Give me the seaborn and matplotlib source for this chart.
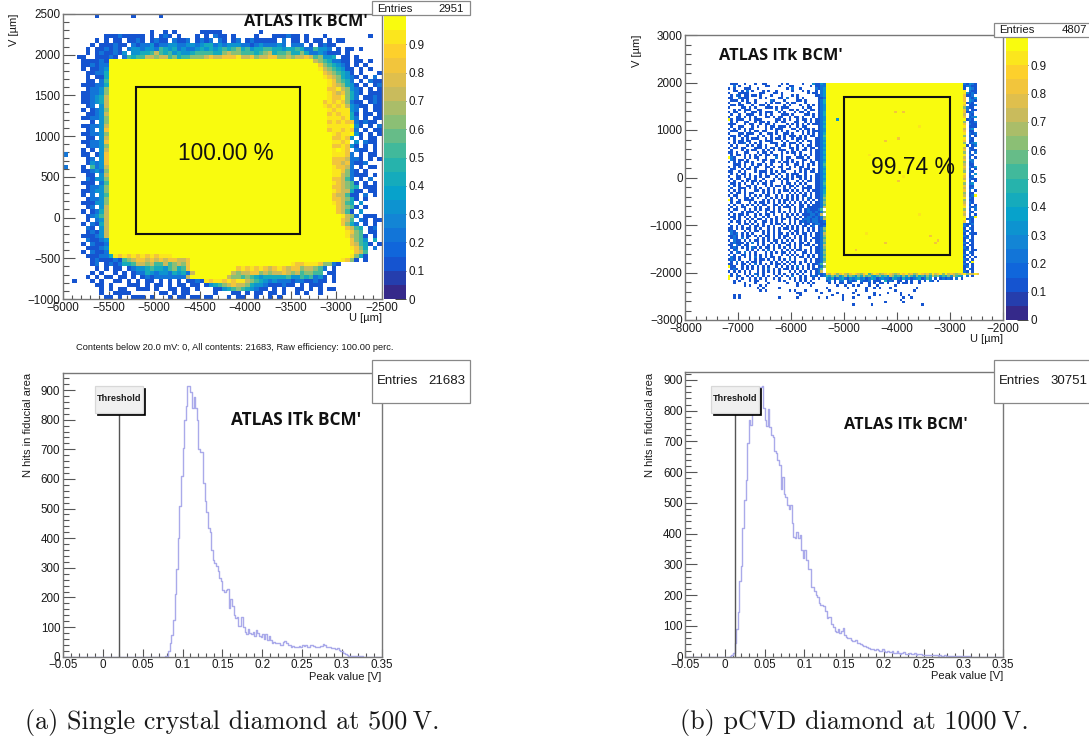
import numpy as np
import pandas as pd
import matplotlib
matplotlib.use("Agg")
import matplotlib.pyplot as plt
from matplotlib.colors import LinearSegmentedColormap
from matplotlib.patches import Rectangle
import seaborn as sns

# cell codes: . empty, 1-9 tenths of efficiency, Y full efficiency

# single crystal map, 50 um cells, top row first
sc_rows = [
    ".......1.......1.....1", "", "", "",
    "...................1..1.1.....11111........1",
    ".........111211111.1.121.1...1.1.211.1....1...111211.1...1.........1",
    ".......1.1.11.1121.1211.2112.1212.21.12.1211111.2.11.1.11.1.11",
    "......1.111211.2122312233223323442323332212322232.222.1.1211",
    ".....1.112121.233233254342322343434545645344554434454225332.1.11.1",
    ".....1.1211213.3344575453433455554467665554567455644642232111.1",
    "...11..11121.25455776775645566678778889778677886676778756334.11.1",
    "....111121" + "Y" * 45 + "76542211.11.1..1",
    "....112122" + "Y" * 46 + "8654321.1.1...1",
    "....1.1123" + "Y" * 46 + "97654311.1.1..1",
    ".....11224" + "Y" * 47 + "8765431.1...1",
    ".....1.114" + "Y" * 47 + "98764321.1.2.1",
    ".....11.25" + "Y" * 48 + "986542.1.211",
    "....111224" + "Y" * 48 + "9876431.1.12",
    ".....12236" + "Y" * 48 + "88976321.1.11",
    "....112236" + "Y" * 48 + "98786421.111",
    "....112347" + "Y" * 48 + "9889642.1121",
    "....112347" + "Y" * 47 + "898986211.1211",
    ".....12.37" + "Y" * 47 + "9898973211.11",
    "....1.1236" + "Y" * 48 + "9899932.1.11",
    ".....11237" + "Y" * 48 + "8989941.11.1",
    "....112236" + "Y" * 48 + "9998942.1.11",
    "......1.36" + "Y" * 48 + "89898821211",
    "....112237" + "Y" * 48 + "99999Y31.1.2",
    ".....12.38" + "Y" * 48 + "8998982.1.11",
    "....112236" + "Y" * 49 + "9899Y31.1.1",
    ".....11.37" + "Y" * 49 + "88983.1.11",
    "....112238" + "Y" * 49 + "9989.3.211",
    ".....12236" + "Y" * 49 + "889831.1.1",
    "....1.1.37" + "Y" * 49 + "9Y98.211.1",
    "2...11.138" + "Y" * 49 + "99982.1.11",
    ".....12.38" + "Y" * 49 + "8887221.1.1",
    ".....13238" + "Y" * 49 + "88782112",
    "2...1.5237" + "Y" * 49 + "98872.1.11",
    "....112326" + "Y" * 49 + "998621.1",
    ".....11.37" + "Y" * 49 + "99762111.1",
    ".....21336" + "Y" * 49 + "88752.1.2",
    "....111.25" + "Y" * 49 + "987651.1.1",
    ".....12236" + "Y" * 49 + "887654.111",
    "....112336" + "Y" * 49 + "9877411.11",
    "....1.2.35" + "Y" * 49 + "877511.2.1",
    ".....12236" + "Y" * 49 + "887641.1",
    "....111336" + "Y" * 49 + "98754.3",
    ".....12.37" + "Y" * 50 + "87651.1",
    "....1.1247" + "Y" * 50 + "8751.3",
    ".....12357" + "Y" * 51 + "9762.111",
    ".....1.237" + "Y" * 51 + "875.21.11",
    "....1.2147" + "Y" * 51 + "8642.1.1",
    ".....21.37" + "Y" * 52 + "8754.12",
    ".....12137" + "Y" * 52 + "9865.11",
    "....111237" + "Y" * 52 + "97651.1",
    ".....21123" + "Y" * 53 + "8653.4",
    "....1.2112" + "Y" * 53 + "87541.1",
    ".....11123" + "Y" * 53 + "9864.2",
    "....1.2112" + "Y" * 54 + "875",
    ".....1112249898989898999" + "Y" * 39 + "9641",
    "......1211121567887878788778" + "Y" * 33 + "9861.1",
    "......12.1212445776755756768" + "Y" * 22 + "98899986621",
    ".......1.1.11.12334544356458" + "Y" * 10 + "89898987898788677652.1",
    "......1.1..1.1.12243233243427" + "Y" * 8 + "76778867677876756655.11",
    ".....1.1.11.11.1.12122222227" + "Y" * 8 + "7665654344444533545231.1",
    "..1...1.1..11.1.1.11.1.1.1.112198998989" + "9765432322212211211.1",
    ".......11.1...111.1.11.1.11.11.13456787764332111211.1.111",
    "........1.1.11..111.1..11.11.1...113456543211.1.1..11.1.1.11",
    "........1..1111......11.1.11.....1...11.1.11.11.1..1.1..1",
    ".........11.1..111.1...1.11.11.11...1.11..1..1.1",
]

# pcvd map, same 50 um cells: left scatter strip, full core, right edge strip
pcvd_left = [
    ".111..1...1..11.....1.1.....1...31132",
    "..2.1...1.....11...1...11......1.1122",
    "1.1...111..1..........1.2..1.....2123",
    "..11.1.2.1...1.1..1.....1...1.1..1.23",
    "1...1111....11...11.1.........1.11.23",
    ".1.21.11.11.1...1...1...1.1......1123",
    "11..2111....1.1....11.2...1.1.....112",
    ".111.1.1..1.....21...1....11.1....124",
    "1...1..11.1...1.1.11..1.11...1....124",
    ".11.11...1..11.1.....1.1...1..1.1.123",
    "1....11.1.1...111.1.111.....1.11..123",
    "..1.1.111..11.....2.1..11.1..1.11.123",
    "1.11..1..11.1.111..1.1...1.11.1...124",
    ".1..1..111..1.1.1...111.1....11.1.124",
    "1..11.1.1.1...11.1.11..1.11.1...1.123",
    "Y1.111..1.111.....11.1.1..1.11.1.1123",
    ".1.1..11..1.11.1..1.11...11..1.1.1124",
    "111...1.11..1.11.1....1.1.1.1.1.11123",
    ".1..11...1.1..1.11.111.1..1.11....124",
    "1.1.1.1.11....1.1.111...11.1.11.1.123",
    ".111..1.1.11.11...1.1.1...1.1.1.11123",
    "1...11.111..1..11.1..11.1...1.1.1.124",
    ".11.1.11...1.1..1..1.1.111.1.1.11.125",
    "1.1..1.1.111..1.1.11.1..1.11.1...1124",
    "..1.11.11...1.111...1.1...1.1.11.1123",
    "1.1.112.1.1.1...111..1.111.1...1.1124",
    ".1.1...1.1.11.1...1.11.1..1.1.11.1123",
    "1.11.11...111.1.11.1...11.1..1.11.124",
    ".1...1.1.11..1.1.1.111..1.1.11.1.1123",
    "11.1..11...1.11.1...1.1.11.1...1.1124",
    ".1.11.1.1.1.1.11.11.1....1.1.1.1.1123",
    "Y21...1.1.11..1...2.1.11..111.1..1124",
    ".21.11.1...1.11.11..1.1.1...11.1.1123",
    "1.1.1.11.1...1..11.1.11.1.1.1..11.124",
    "..111.1..1.11.1.1...1.1..11.1.1.1.125",
    "1.1.1.1.1.11..11.1.11..1.1.11.1...124",
    ".11..1.11.1...1.1...1.11...1.11.1.123",
    "11..1.1...1.111.1.1.11...1.1.1.11.124",
    ".1.1.11.1...1.1.11.1..1.111..1...1123",
    "1..11.1.1.1.1.11..1.1.1.1.11.1.1.1124",
    ".1.11..11.1..1...1.1.11.1..1.1.1.1123",
    "1.1..1.1.11.1.1.11..1.1...1.1.11.1124",
    ".11.1.1..1.1.11.1...1.11.1.1.1...1125",
    "2.1.1..11.1...1.1.11.1.11.1.1.11.1124",
    ".1..111.1.1.1..1.1...1.1.1..1111.1123",
    "1.1.1.1...11.1.1.1.1.11.1.1.1.1.11124",
    ".1.11.1.11...1.1.1.1...1.1.1.1.1.1124",
    "1.11..1.1.1.1.11..1.1.1.1.1.11.1.1125",
    ".1.1..11.1.1..1.1.1.1.1.1.1.1.21.1126",
    "Y1..1.1111...1.1.1.1.11.1.1.1.1.1.125",
    ".1.11...1.1.11.1.1.1.1.1.1.1.1.1.1126",
    "1.1..1.1.1.1.11..11.1.1.1..11.1.11125",
    ".1.1.11...1.1..1.1.1.111.1.11.1111127",
    "1.11..1.1.1.1.11.1.1...1.1.1.1211125",
    ".1...1.111.1..1.11.1.1.1.1.1.12212126",
    "1.1.11.1..1.1.11.1..1.1.1.1.11122127",
    ".11.1.1.1.1..1.1..1.1.11.1.1.12212126",
    "1.1.1..1.1.11.1.1.1.11.1.11.122122127",
    ".1.11.1.1.1..11.1.1.1..1.1.12121221125",
    "1...1.11.1.1.1..1.11.1.1.1.1.11.122116",
    ".1.1.1..1.11.1.1.1..1.1.1.1.11.12.1124",
    "11.1.1.11.1.1..1.1.1.11.1.1.1.1.1.126",
    "121...1.1.11.1.1.1.1...1.11.1.1.1.125",
    ".212.1.1.1...1.1.1.11.1.1.1.11.1.1127",
    "1121.1.11.1.1.11.1.1.11..1.1.1.1.1126",
    ".121.2.1...1.1.1.1.1.1.1.1.1.1..11125",
    "1.211.1.1.11.1.1.11.1.1.1..1.1.1.1126",
    ".12111.1.2.1.1..1.1.11.1.1.11.1..1125",
    "11.21.11...1.1.1.1.1..11.1.1.11.1.127",
    ".121.1.1.21.1.11.1.1.1.1.1.1...1.1126",
    "1.12...1.1.1.1.2.1..1.1.1.11.1.1.1125",
    ".1.21.2.1.1...1.1.1.11.1.1..11.1.1126",
    "1.1..11.1.1.1.1.1...1.1.1.1.1.1.1.125",
    ".21.1.1.1.2.1.1.11.1...1.1.11.1.1.126",
    "121.1...1.1.11.1.1.1.1.2.1...1.1.1125",
    ".1.2.1.1.11.1...1.1.1.1.11.1.1.1.1126",
    "11.1.11.1.2.1.1.1.11.1.1.1.1..1.1125",
    "Y11..1.1.1.1.1.1..1.1.1.1.2.1.1.1.126",
    ".121.1.1.1.1.1.2.1.1.11.1.1.1.1.1125",
    "1.1.1.1.1..1.1.1.1.1...1.1.1.1.1.127",
    ".1.1.1.2.1.1.1.1.1.1.1.1.11.1.1.1126",
]
pcvd_right = [
    "21321", "12211", "1.321", "9.211", "93121", "8112.", "8.213", "8.321", "9121.", "8.112",
    "6211.", "82.11", "8112.", "7.21.", "8.123", "Y121.", "6.112", "8.211", "9.111", "7.23.",
    "8.11.", "9.212", "6.1.1", "9.21.", "8.11.", "6.123", "Y1.12", "7.11.", "8.211", "6.1.2",
    "9.21.", "7.1.1", "8.32.", "6.12.", "7.11.", "8.213", "7.1.1", "6.21.", "9.1.3", "8.12.",
    "7.211", "9.1.1", "6.23.", "8.11.", "7.12.", "8.2.1", "6.11.", "7.12Y", "9.21.", "6.11.",
    "7.21.", "8.1.1", "9.212", "6.1.2", "8.21.", "7.1.1", "9.12Y", "Y121.", "8.21.", "2112.",
    "21.1.", "1.21.", "21.1.", "1.211", "21.1.", "12.1.", "1.21.", "21.1.", "1.11.", "21.1.",
    "12.11", "1.21.", "21.1.", "1.1.1", "21.1.", "1.2Y.", "21.1.", "12.1.", "1.21.", "21.1.",
]
pcvd_bottom = [
    ".1.1..1.1.21.1...1.1.1..1.1.1..1.1212" + "8798689768987689579867898767989786798786978969787678968798",
    "Y1.21..1.1.2.1.1..1.1.1.2..1.1.121.12" + "5464635746536475643564537645364753645364756354637543.2.1",
    "Y..1.1..1.1.1.1..1.1...1.1.1.1..1.1.." + "3241234213234231243123221432142312341253.1.12121.2.1",
    "..1.1...1.11..1....1.1...1.1.1.1....." + "12.1.22.1212.2112.111.4121.11.1.1..1.1.21.1",
    "..1...1...1....1......1...1.1.1.1...." + ".1.1.11.11...1..1.1.11.1...1.11.1..1",
    "......1.1...1.1...........1....1....." + "....1..1..1.1...1..1......1",
    "...........1.1.....1................." + "1.......1......1..1.1...1.........1",
    "............1.1........1.1...1...1...." + "1.........1...1..........1......1",
    "..........................11.......1....." + "1.....1.......1....1....1",
    "..1.1......................1..........." + "1...1.....1.....1.1.......1..1",
    "..1.1..............1......1.......1..1....." + "1...1.....1............1..1",
    "..........................................." + "1.....................1",
    "..........................................................." + "1......1",
    "..............................................." + "1......1..................1",
]
# isolated lower-efficiency cells inside the pcvd core, in um
speck_u = [-4010, -3860, -3590, -4210, -4510, -4000, -3880, -3990, -4570, -3360, -3560, -4210, -3210, -5110, -3290, -4770]
speck_v = [1380, 1360, 1090, 800, 480, 840, 20, -90, -1180, -1230, -750, -1380, -1300, 1210, -1350, -1500]
speck_c = [8, 8, 9, 8, 9, 8, 9, 8, 9, 8, 9, 8, 8, 3, 8, 8]

# histograms: counts per 2 mV bin, first bin starts at the given voltage
sc_start = 0.078
sc_counts = [1, 3, 20, 45, 73, 125, 213, 295, 400, 510, 610, 705, 800, 845, 913, 913, 895, 840, 875, 840,
             800, 700, 690, 690, 585, 525, 490, 435, 420, 360, 325, 315, 305, 290, 265, 255, 225, 220, 225, 230,
             165, 195, 170, 140, 130, 135, 105, 105, 133, 100, 85, 75, 95, 80, 75, 85, 70, 90, 80, 70,
             65, 75, 60, 78, 55, 70, 55, 45, 50, 45, 45, 45, 40, 40, 50, 52, 45, 38, 40, 32,
             35, 32, 34, 32, 36, 33, 38, 36, 38, 32, 33, 40, 40, 36, 33, 33, 32, 36, 35, 44,
             38, 34, 34, 33, 30, 28, 30, 26, 28, 22, 18, 18, 12, 8, 6, 4, 4, 3, 2, 2,
             1, 2, 1, 1, 0]
pcvd_start = 0.006
pcvd_counts = [1, 5, 12, 45, 90, 145, 245, 295, 420, 510, 575, 695, 770, 755, 800, 820, 845, 855, 870, 878,
               880, 810, 770, 750, 805, 748, 720, 714, 670, 664, 640, 625, 545, 585, 530, 520, 493, 480, 493, 434,
               390, 385, 405, 385, 395, 347, 320, 347, 315, 284, 284, 228, 228, 215, 200, 195, 175, 168, 168, 165,
               150, 125, 130, 130, 105, 98, 85, 81, 90, 78, 85, 92, 70, 65, 60, 62, 55, 52, 50, 53,
               46, 44, 40, 38, 35, 36, 30, 28, 26, 24, 25, 22, 24, 22, 18, 20, 24, 18, 16, 20,
               15, 14, 18, 13, 12, 17, 12, 10, 11, 14, 9, 8, 10, 13, 9, 8, 11, 7, 8, 9,
               8, 6, 7, 7, 5, 6, 5, 4, 6, 4, 4, 3, 4, 3, 3, 4, 2, 3, 2, 2,
               3, 2, 2, 1, 2, 1, 1, 2, 1, 1, 1, 0]

bird_colors = ["#35298a", "#0f5cdd", "#1481d6", "#06a4ca", "#2eb7a4", "#87bf77", "#d1bb59", "#fec832", "#f9fb0e"]

sc_u_ticks = [-6000, -5500, -5000, -4500, -4000, -3500, -3000, -2500]
sc_v_ticks = [-1000, -500, 0, 500, 1000, 1500, 2000, 2500]
pcvd_u_ticks = [-8000, -7000, -6000, -5000, -4000, -3000, -2000]
pcvd_v_ticks = [-3000, -2000, -1000, 0, 1000, 2000, 3000]
peak_ticks = [-0.05, 0, 0.05, 0.1, 0.15, 0.2, 0.25, 0.3, 0.35]
peak_labels = ["\u22120.05", "0", "0.05", "0.1", "0.15", "0.2", "0.25", "0.3", "0.35"]
hits_ticks = [0, 100, 200, 300, 400, 500, 600, 700, 800, 900]

W, H = 1089, 742
sns.set_theme(style="white")
plt.rcParams["font.family"] = ["Liberation Sans", "DejaVu Sans"]
plt.rcParams["text.color"] = "#1a1a1a"
AXC = "#777777"
TXT = "#1a1a1a"
LOGO = "Open Sans"
HIST = "#aaaaea"

fig = plt.figure(figsize=(W / 100, H / 100), dpi=100, facecolor="white")


def px_axes(x0, y0, x1, y1):
    return fig.add_axes([x0 / W, 1 - y1 / H, (x1 - x0) / W, (y1 - y0) / H])


def ftext(x, y, s, **kw):
    kw.setdefault("va", "center")
    kw.setdefault("fontsize", 8)
    kw.setdefault("color", TXT)
    kw.setdefault("zorder", 5)
    return fig.text(x / W, 1 - y / H, s, **kw)


def fbox(x0, y0, x1, y1, fc="white", ec="#888888", lw=0.9, z=3):
    fig.add_artist(Rectangle((x0 / W, 1 - y1 / H), (x1 - x0) / W, (y1 - y0) / H, transform=fig.transFigure,
                             facecolor=fc, edgecolor=ec, linewidth=lw, zorder=z))


def decode(rows, ncols):
    out = []
    for row in rows:
        row = row.ljust(ncols, ".")[:ncols]
        vals = []
        for ch in row:
            if ch == ".":
                vals.append(np.nan)
            elif ch == "Y":
                vals.append(1.0)
            else:
                vals.append(int(ch) / 10 + 0.02)
        out.append(vals)
    # pad empty rows so the map always covers the whole v range
    while len(out) < ncols:
        out.append([np.nan] * ncols)
    return np.array(out[:ncols])


def style_frame(ax, xlen=6, ylen=8.4):
    for s in ax.spines.values():
        s.set_visible(True)
        s.set_color(AXC)
        s.set_linewidth(1.0)
    ax.tick_params(axis="x", which="major", direction="in", length=xlen, width=0.8, color="#555555",
                   bottom=True, labelsize=8.4, pad=2, labelcolor=TXT)
    ax.tick_params(axis="x", which="minor", direction="in", length=xlen / 2, width=0.8, color="#555555", bottom=True)
    ax.tick_params(axis="y", which="major", direction="in", length=ylen, width=0.8, color="#555555",
                   left=True, labelsize=8.4, pad=2, labelcolor=TXT)
    ax.tick_params(axis="y", which="minor", direction="in", length=ylen / 2, width=0.8, color="#555555", left=True)


def draw_map(matrix, box, cbar_box, u_range, v_range, u_ticks, v_ticks, u_minor, v_minor, rect, bin_um=50):
    ax = px_axes(*box)
    cax = px_axes(*cbar_box)
    cmap = LinearSegmentedColormap.from_list("bird", bird_colors, N=20)
    df = pd.DataFrame(matrix)
    sns.heatmap(df, ax=ax, cbar_ax=cax, cmap=cmap, vmin=0, vmax=1, xticklabels=False, yticklabels=False,
                cbar_kws={"ticks": np.arange(0, 1.0, 0.1)})
    # index coordinates of the heatmap
    to_x = lambda u: (np.asarray(u) - u_range[0]) / bin_um
    to_y = lambda v: (v_range[1] - np.asarray(v)) / bin_um
    ax.set_xticks(to_x(u_ticks))
    ax.set_xticklabels([str(t).replace("-", "\u2212") for t in u_ticks], rotation=0)
    ax.set_yticks(to_y(v_ticks))
    ax.set_yticklabels([str(t).replace("-", "\u2212") for t in v_ticks], rotation=0)
    ax.set_xticks(to_x(np.arange(u_range[0], u_range[1] + 1, u_minor)), minor=True)
    ax.set_yticks(to_y(np.arange(v_range[0], v_range[1] + 1, v_minor)), minor=True)
    style_frame(ax)
    ax.add_patch(Rectangle((to_x(rect[0]), to_y(rect[3])), (rect[1] - rect[0]) / bin_um, (rect[3] - rect[2]) / bin_um,
                           fill=False, edgecolor="#111111", linewidth=1.5))
    cax.tick_params(axis="y", direction="in", length=8, width=0.7, color="#444444", right=True, labelsize=8.4,
                    pad=2, labelcolor=TXT)
    cax.set_yticklabels(["0", "0.1", "0.2", "0.3", "0.4", "0.5", "0.6", "0.7", "0.8", "0.9"])
    return ax


def draw_hist(box, start, counts, ymax, thr, thr_top):
    ax = px_axes(*box)
    edges = np.round(np.linspace(-0.05, 0.35, 201), 4).tolist()
    centers = start + 0.001 + 0.002 * np.arange(len(counts))
    sns.histplot(x=centers, weights=counts, bins=edges, element="step", fill=False, color=HIST, linewidth=1.0, ax=ax)
    ax.set_xlim(-0.05, 0.35)
    ax.set_ylim(0, ymax)
    ax.set_xlabel("")
    ax.set_ylabel("")
    ax.set_xticks(peak_ticks)
    ax.set_xticklabels(peak_labels)
    ax.set_xticks(np.round(np.arange(-0.05, 0.351, 0.01), 3), minor=True)
    ax.set_yticks(hits_ticks)
    ax.set_yticks(np.arange(0, ymax, 20), minor=True)
    style_frame(ax)
    ax.plot([thr, thr], [0, thr_top], color="#555555", linewidth=1.0)
    return ax


# single crystal efficiency map
draw_map(decode(sc_rows, 70), (63, 14, 381.7, 299), (384, 16, 406, 299), (-6000, -2500), (-1000, 2500),
         sc_u_ticks, sc_v_ticks, 100, 100, (-5200, -3400, -200, 1600))

# pcvd efficiency map
pcvd_rows = [""] * 20
for left, right in zip(pcvd_left, pcvd_right):
    pcvd_rows.append("." * 16 + left.ljust(37, ".")[:37] + "Y" * 52 + right)
for row in pcvd_bottom:
    pcvd_rows.append("." * 16 + row)
pcvd_matrix = decode(pcvd_rows, 120)
for u, v, c in zip(speck_u, speck_v, speck_c):
    pcvd_matrix[int((3000 - v) / 50), int((u + 8000) / 50)] = c / 10 + 0.02
draw_map(pcvd_matrix, (685.3, 35, 1003, 320), (1006, 37, 1028, 320), (-8000, -2000), (-3000, 3000),
         pcvd_u_ticks, pcvd_v_ticks, 200, 200, (-5000, -3000, -1630, 1700))

# peak value spectra
draw_hist((63, 372.7, 381.7, 656.7), sc_start, sc_counts, 958.5, 0.02, 822)
draw_hist((685.3, 372.3, 1003, 656.7), pcvd_start, pcvd_counts, 925, 0.0125, 790)

# stat boxes
fbox(372, 1, 470, 15)
ftext(377, 8.5, "Entries", fontsize=8.2)
ftext(464, 8.5, "2951", fontsize=8.2, ha="right")
fbox(994, 23, 1092, 37)
ftext(999, 30, "Entries", fontsize=8.2)
ftext(1087, 30, "4807", fontsize=8.2, ha="right")
fbox(372, 360, 470, 402.5)
ftext(377, 381, "Entries", fontsize=9.5)
ftext(465, 381, "21683", fontsize=9.5, ha="right")
fbox(994, 360, 1092, 402.5)
ftext(999, 381, "Entries", fontsize=9.5)
ftext(1087, 381, "30751", fontsize=9.5, ha="right")

# threshold labels with the black shadow
for x0, y0, x1, y1 in [(95, 386, 143, 413), (711, 385.7, 759, 413)]:
    fbox(x0 + 2, y0 + 2, x1 + 2, y1 + 2, fc="#000000", ec="#000000", lw=0.5)
    fbox(x0, y0, x1, y1, fc="#f0f0f0", ec="#d8d8d8", lw=0.9, z=4)
    ftext((x0 + x1) / 2, (y0 + y1) / 2 - 1, "Threshold", fontsize=6.6, fontweight="bold", ha="center")

# axis titles
ftext(14, 14, "V [\u00b5m]", rotation=90, ha="center", va="top")
ftext(381.7, 318, "U [\u00b5m]", ha="right")
ftext(637, 35, "V [\u00b5m]", rotation=90, ha="center", va="top")
ftext(1003, 339, "U [\u00b5m]", ha="right")
for x in (28, 650):
    ftext(x, 372.5, "N hits in fiducial area", rotation=90, ha="center", va="top", fontsize=8)
ftext(381.7, 677, "Peak value [V]", ha="right", fontsize=8)
ftext(1003, 676, "Peak value [V]", ha="right", fontsize=8)
ftext(234.5, 348, "Contents below 20.0 mV: 0, All contents: 21683, Raw efficiency: 100.00 perc.", ha="center", fontsize=6.7)

# percentages and experiment labels
ftext(178, 153, "100.00 %", fontsize=16.3, color="#111111")
ftext(871, 167, "99.74 %", fontsize=16.5, color="#111111")
for x, y, size in [(305.5, 22, 11.7), (781, 56, 11.7), (296, 420, 12.4), (905.5, 425, 11.7)]:
    ftext(x, y, "ATLAS ITk BCM'", family=LOGO, fontweight="bold", fontsize=size, ha="center", color="#111111")

# captions
ftext(25, 723, "(a) Single crystal diamond at 500\u2009V.", family=["cmr10", "DejaVu Serif"], fontsize=18.8)
ftext(680, 723, "(b) pCVD diamond at 1000\u2009V.", family=["cmr10", "DejaVu Serif"], fontsize=18.8)

fig.savefig("out.png", dpi=100)
